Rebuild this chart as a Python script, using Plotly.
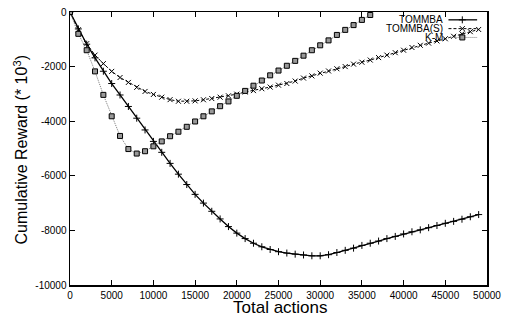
import plotly.graph_objects as go

# ---- data ----
actions = list(range(0, 50000, 1000))
tommba = [0, -620, -1180, -1680, -2170, -2620, -3040, -3460, -3890, -4320,
          -4740, -5140, -5545, -5940, -6320, -6680, -7000, -7300, -7580, -7860,
          -8100, -8300, -8470, -8600, -8700, -8780, -8830, -8870, -8900, -8930,
          -8930, -8890, -8810, -8730, -8650, -8550, -8470, -8390, -8300, -8220,
          -8130, -8050, -7980, -7900, -7820, -7740, -7670, -7590, -7500, -7420]
tommba_s = [0, -650, -1160, -1580, -1890, -2175, -2400, -2580, -2760, -2910,
            -3020, -3120, -3210, -3270, -3270, -3255, -3215, -3170, -3120, -3070,
            -3010, -2930, -2880, -2810, -2750, -2680, -2620, -2530, -2420, -2340,
            -2240, -2160, -2080, -2000, -1910, -1840, -1760, -1670, -1580, -1490,
            -1400, -1300, -1220, -1140, -1060, -980, -890, -800, -720, -640]
km_actions = list(range(0, 37000, 1000))
km = [0, -800, -1400, -2175, -3035, -3820, -4540, -5020, -5185, -5100,
      -4920, -4740, -4550, -4385, -4205, -4010, -3820, -3640, -3450, -3275,
      -3070, -2890, -2700, -2510, -2320, -2145, -1970, -1790, -1600, -1400,
      -1220, -1040, -840, -655, -480, -290, -110]

x_ticks = list(range(0, 50001, 5000))
x_ticktext = [str(v) for v in x_ticks]
y_ticks = [0, -2000, -4000, -6000, -8000, -10000]
y_ticktext = ["0", "-2000", "-4000", "-6000", "-8000", "-10000"]

series_names = ["TOMMBA", "TOMMBA(S)", "K-M"]

FONT = "Liberation Sans, Arial, sans-serif"

fig = go.Figure()

styles = [
    dict(line=dict(color="black", width=1.3, dash="solid"),
         marker=dict(symbol="cross-thin", size=5, color="black",
                     line=dict(color="black", width=1))),
    dict(line=dict(color="black", width=1, dash="3px,2px"),
         marker=dict(symbol="x-thin", size=5, color="black",
                     line=dict(color="black", width=1))),
    dict(line=dict(color="#777777", width=1, dash="1px,1px"),
         marker=dict(symbol="square", size=5, color="#999999",
                     line=dict(color="black", width=1))),
]

data = [(actions, tommba), (actions, tommba_s), (km_actions, km)]
for (xs, ys), name, st in zip(data, series_names, styles):
    fig.add_trace(go.Scatter(x=xs, y=ys, mode="lines+markers", name=name,
                             line=st["line"], marker=st["marker"],
                             showlegend=False))

# ---- custom legend (text left of sample, gnuplot style) on an overlay axis in pixel units ----
leg_rows = [14, 23, 32]
for row_y, name, st in zip(leg_rows, series_names, styles):
    fig.add_trace(go.Scatter(x=[453, 482], y=[row_y, row_y], mode="lines",
                             line=st["line"], xaxis="x2", yaxis="y2",
                             showlegend=False, hoverinfo="skip"))
    fig.add_trace(go.Scatter(x=[467], y=[row_y], mode="markers",
                             marker=st["marker"], xaxis="x2", yaxis="y2",
                             showlegend=False, hoverinfo="skip"))
    fig.add_annotation(x=449, y=row_y, xref="x2", yref="y2", text=name,
                       showarrow=False, xanchor="right", yanchor="middle",
                       font=dict(family=FONT, size=10, color="black"))

axis_common = dict(showline=True, linecolor="black", linewidth=1.5, mirror="ticks",
                   ticks="inside", ticklen=5, tickwidth=1, tickcolor="black",
                   showgrid=False, zeroline=False,
                   tickfont=dict(family=FONT, size=10, color="black"))

fig.update_layout(
    width=507, height=322,
    margin=dict(l=70, r=15, t=6, b=37),
    paper_bgcolor="white", plot_bgcolor="white",
    xaxis=dict(range=[0, 50000], tickvals=x_ticks, ticktext=x_ticktext, **axis_common),
    yaxis=dict(range=[-10000, 0], tickvals=y_ticks, ticktext=y_ticktext, **axis_common),
    xaxis2=dict(range=[70, 492], overlaying="x", visible=False, fixedrange=True),
    yaxis2=dict(range=[285, 6], overlaying="y", visible=False, fixedrange=True),
)

fig.add_annotation(x=0.505, y=-0.082, xref="paper", yref="paper", text="Total actions",
                   showarrow=False, xanchor="center", yanchor="middle",
                   font=dict(family=FONT, size=17, color="black"))
fig.add_annotation(x=-0.1185, y=0.495, xref="paper", yref="paper",
                   text="Cumulative Reward (* 10<sup>3</sup>)", textangle=-90,
                   showarrow=False, xanchor="center", yanchor="middle",
                   font=dict(family=FONT, size=16, color="black"))

fig.write_html("out.html",
               config={"displayModeBar": False, "staticPlot": True},
               post_script="document.body.style.margin='0';document.body.style.overflow='hidden';")
